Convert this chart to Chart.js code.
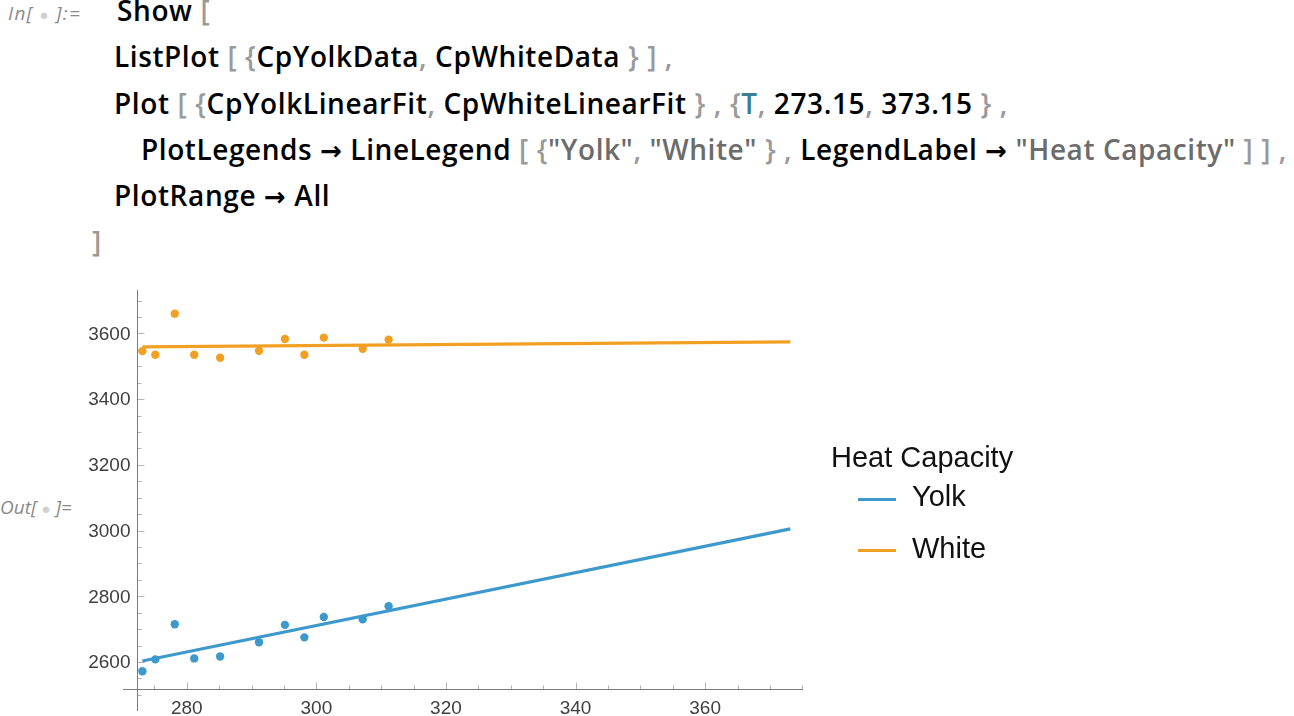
<!DOCTYPE html>
<html>
<head>
<meta charset="utf-8">
<script src="https://cdn.jsdelivr.net/npm/chart.js@4.4.1/dist/chart.umd.min.js"></script>
<style>
  html, body { margin: 0; padding: 0; background: #fff; }
  body { width: 1294px; height: 716px; position: relative; overflow: hidden; }
  .code { position: absolute; font-family: "Open Sans", sans-serif; font-weight: 600; font-size: 28px; line-height: 28px; color: #000; white-space: pre; }
  .g { color: #9a9a9a; }
  .s { color: #6c6c6c; }
  .t { color: #3b7f94; }
  .a { font-family: "DejaVu Sans", sans-serif; font-weight: 700; font-size: 26px; }
  .tag { position: absolute; font-family: "Open Sans", sans-serif; font-style: italic; font-weight: 400; font-size: 19px; line-height: 19px; color: #8a8a8a; white-space: pre; }
  .dot { color: #d0d0d0; font-size: 15px; }
  #chartBox { position: absolute; left: 0; top: 280px; width: 1294px; height: 436px; }
  .leg { position: absolute; font-family: "Liberation Sans", Arial, sans-serif; font-size: 29px; line-height: 29px; color: #111; white-space: pre; }
  .swatch { position: absolute; width: 38px; height: 3px; }
</style>
</head>
<body>
<div id="tagIn" class="tag" style="left:8px; top:4px;">In[ <span class="dot">●</span> ]:=</div>
<div id="c1" class="code" style="left:117px; top:-4px;">Show <span class="g">[</span></div>
<div id="c2" class="code" style="left:114px; top:42px;">ListPlot <span class="g">[ {</span>CpYolkData<span class="g">,</span> CpWhiteData <span class="g">} ] ,</span></div>
<div id="c3" class="code" style="left:114px; top:89px;">Plot <span class="g">[ {</span>CpYolkLinearFit<span class="g">,</span> CpWhiteLinearFit <span class="g">} , {</span><span class="t">T</span><span class="g">,</span> 273.15<span class="g">,</span> 373.15 <span class="g">} ,</span></div>
<div id="c4" class="code" style="left:141px; top:135px;">PlotLegends <span class="a">→</span> LineLegend <span class="g">[ {</span><span class="s">"Yolk"</span><span class="g">,</span> <span class="s">"White"</span> <span class="g">} ,</span> LegendLabel <span class="a">→</span> <span class="s">"Heat Capacity"</span> <span class="g">] ] ,</span></div>
<div id="c5" class="code" style="left:114px; top:181px;">PlotRange <span class="a">→</span> All</div>
<div id="c6" class="code" style="left:92px; top:227px;"><span class="g">]</span></div>
<div id="tagOut" class="tag" style="left:0px; top:498px;">Out[ <span class="dot">●</span> ]=</div>

<div id="chartBox"><canvas id="heatChart" width="1294" height="436"></canvas></div>

<div id="legendTitle" class="leg" style="left:831px; top:443px;"></div>
<div class="swatch" style="left:858px; top:498px; background:rgb(61,153,204);"></div>
<div id="legendA" class="leg" style="left:912px; top:482px;"></div>
<div class="swatch" style="left:858px; top:549px; background:rgb(242,160,36);"></div>
<div id="legendB" class="leg" style="left:912px; top:534px;"></div>

<script>
// temperature in K, heat capacity in J/(kg K)
const temperatures = [273.15, 275.15, 278.15, 281.15, 285.15, 291.15, 295.15, 298.15, 301.15, 307.15, 311.15];
const yolkCp = [2572, 2608, 2715, 2611, 2617, 2660, 2713, 2675, 2737, 2730, 2770];
const whiteCp = [3546, 3535, 3660, 3535, 3526, 3547, 3583, 3535, 3587, 3553, 3581];

// linear fits, evaluated at the ends of the plotted T range
const fitT = [273.15, 373.15];
const yolkFit = [2603, 3005];
const whiteFit = [3559, 3574];

const xMajor = [280, 300, 320, 340, 360];
const yMajor = [2600, 2800, 3000, 3200, 3400, 3600];
const seriesNames = ['Yolk', 'White'];
const legendLabel = 'Heat Capacity';

const blue = 'rgb(61,153,204)';
const orange = 'rgb(242,160,36)';
const crossX = 272.3;   // where the vertical axis sits
const crossY = 2517;    // where the horizontal axis sits

document.getElementById('legendTitle').textContent = legendLabel;
document.getElementById('legendA').textContent = seriesNames[0];
document.getElementById('legendB').textContent = seriesNames[1];

// stretch the notebook text so each line ends where it does in the notebook
function spreadTo(id, right) {
    const el = document.getElementById(id);
    el.style.letterSpacing = '0px';
    const box = el.getBoundingClientRect();
    const n = el.textContent.length;
    const ls = (right - box.left - box.width) / n;
    el.style.letterSpacing = ls + 'px';
    return ls;
}
function fitCode() {
    spreadTo('tagIn', 81);
    spreadTo('tagOut', 72);
    spreadTo('c2', 673);
    const ls = spreadTo('c3', 1008);
    spreadTo('c4', 1287);
    document.getElementById('c1').style.letterSpacing = ls + 'px';
    document.getElementById('c5').style.letterSpacing = ls + 'px';
}
fitCode();
if (document.fonts) document.fonts.ready.then(fitCode);

function pairs(xs, ys) {
    return xs.map((x, i) => ({x: x, y: ys[i]}));
}

// Mathematica style ticks: pointing into the plot, longer at labelled values
const inwardTicks = {
    id: 'inwardTicks',
    beforeDatasetsDraw(chart) {
        const c = chart.ctx;
        const sx = chart.scales.x;
        const sy = chart.scales.y;
        const ax = Math.round(sx.getPixelForValue(crossX)) + 0.5;
        const ay = Math.round(sy.getPixelForValue(crossY)) + 0.5;
        c.save();
        c.strokeStyle = '#b3b3b3';
        c.lineWidth = 1;
        sx.ticks.forEach(t => {
            const px = Math.round(sx.getPixelForValue(t.value)) + 0.5;
            const len = xMajor.includes(t.value) ? 7 : 4;
            c.beginPath();
            c.moveTo(px, ay);
            c.lineTo(px, ay - len);
            c.stroke();
        });
        sy.ticks.forEach(t => {
            const py = Math.round(sy.getPixelForValue(t.value)) + 0.5;
            const len = yMajor.includes(t.value) ? 7 : 4;
            c.beginPath();
            c.moveTo(ax, py);
            c.lineTo(ax + len, py);
            c.stroke();
        });
        // axis lines
        c.strokeStyle = '#7a7a7a';
        c.beginPath();
        c.moveTo(chart.chartArea.left, ay);
        c.lineTo(chart.chartArea.right, ay);
        c.moveTo(ax, chart.chartArea.top);
        c.lineTo(ax, chart.chartArea.bottom);
        c.stroke();
        // tick labels
        c.fillStyle = '#404040';
        c.font = '19px "Liberation Sans", Arial, sans-serif';
        c.textAlign = 'center';
        c.textBaseline = 'middle';
        xMajor.forEach(v => c.fillText(String(v), sx.getPixelForValue(v), ay + 19));
        c.textAlign = 'right';
        yMajor.forEach(v => c.fillText(String(v), ax - 7, sy.getPixelForValue(v) + 1));
        c.restore();
    }
};

const ctx = document.getElementById('heatChart').getContext('2d');
const heatChart = new Chart(ctx, {
    type: 'scatter',
    data: {
        datasets: [{
            type: 'line',
            label: seriesNames[0] + ' fit',
            data: pairs(fitT, yolkFit),
            borderColor: blue,
            borderWidth: 3.2,
            pointRadius: 0,
            fill: false
        }, {
            type: 'line',
            label: seriesNames[1] + ' fit',
            data: pairs(fitT, whiteFit),
            borderColor: orange,
            borderWidth: 3.2,
            pointRadius: 0,
            fill: false
        }, {
            label: seriesNames[0],
            data: pairs(temperatures, yolkCp),
            backgroundColor: blue,
            borderWidth: 0,
            pointRadius: 4.2
        }, {
            label: seriesNames[1],
            data: pairs(temperatures, whiteCp),
            backgroundColor: orange,
            borderWidth: 0,
            pointRadius: 4.2
        }]
    },
    options: {
        responsive: false,
        animation: false,
        layout: {
            padding: {left: 123, right: 491, top: 10, bottom: 5}
        },
        plugins: {
            legend: {display: false},
            tooltip: {enabled: false}
        },
        scales: {
            x: {
                type: 'linear',
                min: 270.16,
                max: 375.1,
                position: {y: crossY},
                grid: {display: false, drawTicks: false},
                border: {display: false},
                ticks: {display: false, stepSize: 5, includeBounds: false, autoSkip: false}
            },
            y: {
                type: 'linear',
                min: 2451,
                max: 3732,
                position: {x: crossX},
                grid: {display: false, drawTicks: false},
                border: {display: false},
                ticks: {display: false, stepSize: 50, includeBounds: false, autoSkip: false}
            }
        }
    },
    plugins: [inwardTicks]
});
</script>
</body>
</html>
